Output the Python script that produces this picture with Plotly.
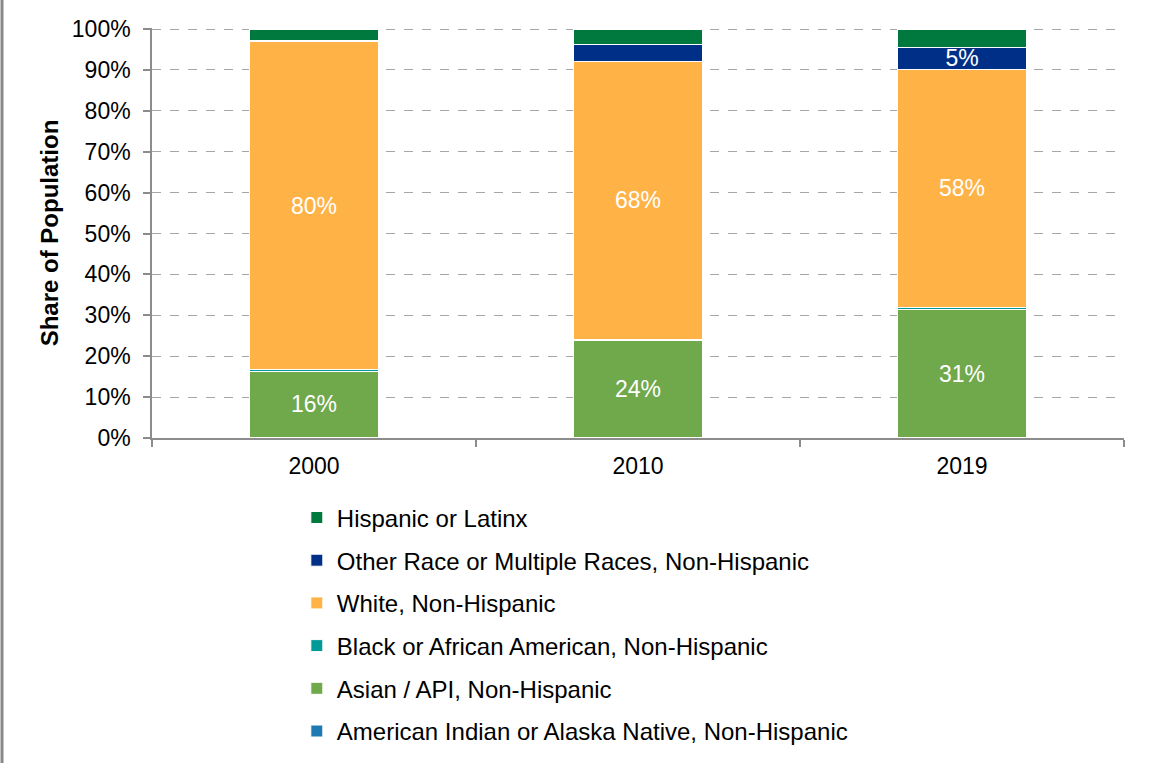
import plotly.graph_objects as go

years = ["2000", "2010", "2019"]
series_names = [
    "American Indian or Alaska Native, Non-Hispanic",
    "Asian / API, Non-Hispanic",
    "Black or African American, Non-Hispanic",
    "White, Non-Hispanic",
    "Other Race or Multiple Races, Non-Hispanic",
    "Hispanic or Latinx",
]
aian = [0.1, 0.1, 0.1]
asian = [16.2, 23.7, 31.3]
black = [0.4, 0.4, 0.5]
white = [80.2, 67.8, 58.3]
other = [0.3, 4.2, 5.3]
hispanic = [2.8, 3.8, 4.5]
values = [aian, asian, black, white, other, hispanic]
labels = [
    ["", "", ""],
    ["16%", "24%", "31%"],
    ["", "", ""],
    ["80%", "68%", "58%"],
    ["", "", "5%"],
    ["", "", ""],
]
colors = ["#1F7AB4", "#70A84C", "#009A99", "#FFB347", "#002F87", "#00793E"]

fig = go.Figure()
n = len(series_names)
for i, (name, vals, lab, col) in enumerate(zip(series_names, values, labels, colors)):
    fig.add_trace(go.Bar(
        x=years, y=vals, name=name, text=lab,
        textposition="inside", insidetextanchor="middle", constraintext="none",
        textfont=dict(color="white", size=23, family="Liberation Sans, Arial"),
        marker=dict(color=col, line=dict(color="white", width=1)),
        legendgroup=f"g{i}", legendrank=n - i, hoverinfo="name+y",
    ))

fig.update_layout(
    barmode="stack",
    bargap=0.6,
    width=1151, height=763,
    margin=dict(l=152, r=27, t=28, b=325, autoexpand=False),
    paper_bgcolor="white", plot_bgcolor="white",
    font=dict(family="Liberation Sans, Arial", size=23, color="black"),
    showlegend=True,
    legend=dict(
        x=0.149, y=-0.140, xanchor="left", yanchor="top",
        traceorder="grouped", tracegroupgap=8.5,
        font=dict(size=24, color="black"),
        bgcolor="rgba(0,0,0,0)",
    ),
    shapes=[dict(type="line", xref="paper", yref="paper",
                 x0=-150/972, x1=-150/972, y0=438/409, y1=-325/409,
                 line=dict(color="#888888", width=3))],
)
fig.update_xaxes(
    type="category", showline=True, linecolor="#8C8C8C", linewidth=2,
    ticks="outside", tickson="boundaries", ticklen=7, tickcolor="#8C8C8C", tickwidth=2,
    tickfont=dict(size=23, color="black"), showgrid=False, ticklabelstandoff=6,
)
fig.update_yaxes(
    range=[0, 100.25], tickvals=list(range(0, 101, 10)),
    ticktext=[f"{v}%" for v in range(0, 101, 10)],
    showline=True, linecolor="#8C8C8C", linewidth=1.5,
    ticks="outside", ticklen=7, tickcolor="#8C8C8C", tickwidth=1.5,
    showgrid=True, gridcolor="#A6A6A6", griddash="dash", gridwidth=1,
    tickfont=dict(size=23, color="black"), ticklabelstandoff=8,
    title=dict(text="<b>Share of Population</b>", font=dict(size=24, color="black"), standoff=6),
    zeroline=False,
)
fig.write_html("out.html")
